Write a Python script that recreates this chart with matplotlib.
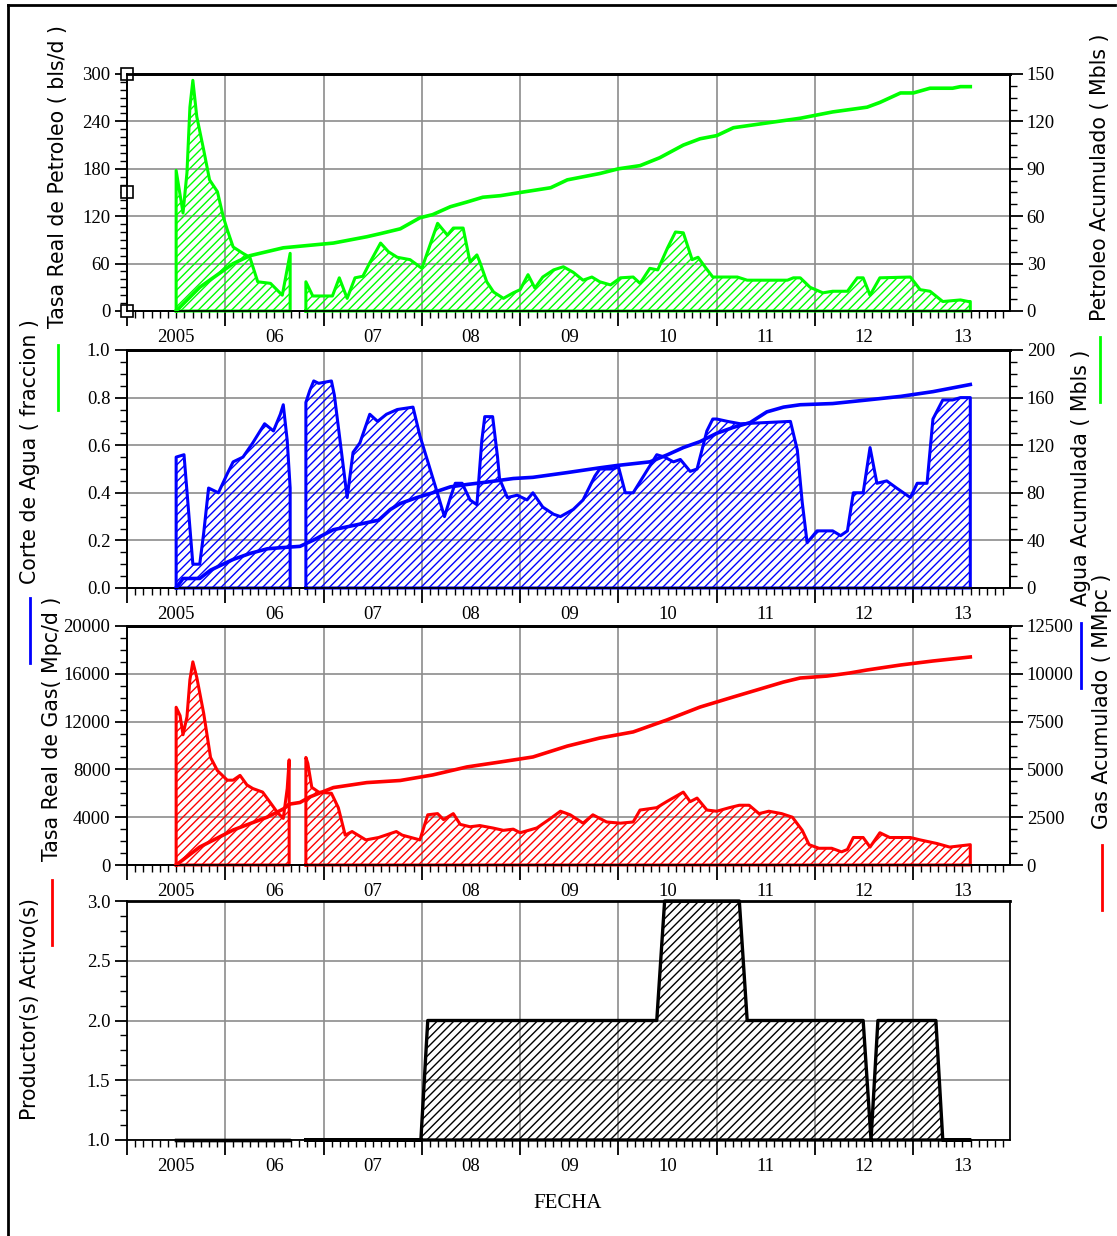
import numpy as np
import matplotlib
matplotlib.use('Agg')
import matplotlib.pyplot as plt
from matplotlib.ticker import FixedLocator, MultipleLocator, AutoMinorLocator, NullFormatter, FormatStrFormatter
from matplotlib.lines import Line2D

plt.rcParams['font.family'] = 'Liberation Serif'
plt.rcParams['hatch.linewidth'] = 1.0

VERDE = '#00ff00'
AZUL = '#0000ff'
ROJO = '#ff0000'
nan = np.nan

# eje de tiempo
anios = list(range(2005, 2014))
etiquetas = ['2005', '06', '07', '08', '09', '10', '11', '12', '13']

# tasa real de petroleo (bls/d)
t_pet = [2005.00, 2005.07, 2005.11, 2005.14, 2005.17, 2005.21, 2005.28, 2005.34, 2005.42, 2005.48,
         2005.52, 2005.58, 2005.68, 2005.75, 2005.83, 2005.96, 2006.08, 2006.16, 2006.24,
         2006.32, 2006.39, 2006.59, 2006.66, 2006.74, 2006.82, 2006.90, 2006.97, 2007.08, 2007.16,
         2007.25, 2007.38, 2007.50, 2007.66, 2007.76, 2007.82, 2007.92, 2007.99, 2008.06, 2008.09,
         2008.16, 2008.23, 2008.33, 2008.43, 2008.50, 2008.58, 2008.65, 2008.73, 2008.84, 2008.94,
         2009.04, 2009.14, 2009.23, 2009.31, 2009.42, 2009.52, 2009.65, 2009.72, 2009.82, 2009.90,
         2010.00, 2010.08, 2010.16, 2010.25, 2010.31, 2010.38, 2010.46, 2010.71, 2010.81, 2011.22,
         2011.28, 2011.35, 2011.45, 2011.58, 2011.68, 2011.83, 2011.93, 2011.99, 2012.06, 2012.16,
         2012.47, 2012.57, 2012.67, 2012.80, 2012.98, 2013.06, 2013.08]
q_pet = [178, 124, 175, 258, 292, 246, 204, 166, 151, 119,
         103, 81, 73, 68, 37, 35, 20, 73, nan,
         37, 19, 19, 42, 16, 42, 44, 61, 86, 75,
         68, 65, 54, 111, 96, 105, 105, 62, 71, 62,
         37, 24, 16, 23, 27, 46, 29, 43, 52, 56,
         49, 39, 43, 37, 33, 42, 43, 35, 54, 52,
         80, 100, 99, 65, 68, 56, 43, 43, 39, 39,
         42, 42, 30, 23, 25, 25, 42, 42, 20, 42,
         43, 27, 25, 12, 14, 12, 12]

# petroleo acumulado (Mbls)
t_np = [2005.00, 2005.24, 2005.58, 2005.75, 2006.09, 2006.26, 2006.60, 2006.77, 2006.94, 2007.08,
        2007.28, 2007.48, 2007.61, 2007.79, 2007.96, 2008.12, 2008.30, 2008.50, 2008.81, 2008.98,
        2009.31, 2009.50, 2009.72, 2009.92, 2010.16, 2010.33, 2010.50, 2010.67, 2011.01, 2011.35,
        2011.68, 2012.03, 2012.16, 2012.37, 2012.50, 2012.67, 2012.90, 2012.98, 2013.08]
np_acum = [0, 15, 30, 35, 40, 41, 43, 45, 47, 49,
           52, 59, 61, 66, 69, 72, 73, 75, 78, 83,
           87, 90, 92, 97, 105, 109, 111, 116, 119, 122,
           126, 129, 132, 138, 138, 141, 141, 142, 142]

# corte de agua (fraccion)
t_agua = [2005.00, 2005.08, 2005.17, 2005.24, 2005.28, 2005.33, 2005.43, 2005.52, 2005.58, 2005.68,
          2005.78, 2005.90, 2005.99, 2006.06, 2006.09, 2006.13, 2006.16, 2006.24,
          2006.32, 2006.36, 2006.40, 2006.45, 2006.58, 2006.61, 2006.74, 2006.80, 2006.87, 2006.97,
          2007.05, 2007.14, 2007.25, 2007.41, 2007.48, 2007.65, 2007.73, 2007.79, 2007.84, 2007.91,
          2007.99, 2008.06, 2008.11, 2008.14, 2008.22, 2008.27, 2008.29, 2008.37, 2008.47, 2008.57,
          2008.63, 2008.73, 2008.84, 2008.91, 2009.04, 2009.14, 2009.26, 2009.31, 2009.45, 2009.50,
          2009.57, 2009.65, 2009.77, 2009.89, 2009.97, 2010.06, 2010.13, 2010.23, 2010.30, 2010.40,
          2010.46, 2010.50, 2010.61, 2010.74, 2011.25, 2011.32, 2011.37, 2011.42, 2011.52, 2011.68,
          2011.76, 2011.83, 2011.89, 2011.99, 2012.06, 2012.13, 2012.23, 2012.33, 2012.47, 2012.54,
          2012.64, 2012.70, 2012.80, 2012.90, 2012.98, 2013.08]
fw = [0.55, 0.56, 0.10, 0.10, 0.23, 0.42, 0.40, 0.48, 0.53, 0.55,
      0.61, 0.69, 0.66, 0.73, 0.77, 0.62, 0.42, nan,
      0.78, 0.83, 0.87, 0.86, 0.87, 0.81, 0.38, 0.57, 0.61, 0.73,
      0.70, 0.73, 0.75, 0.76, 0.64, 0.41, 0.30, 0.38, 0.44, 0.44,
      0.37, 0.35, 0.62, 0.72, 0.72, 0.55, 0.46, 0.38, 0.39, 0.37,
      0.40, 0.34, 0.31, 0.30, 0.33, 0.37, 0.47, 0.50, 0.50, 0.51,
      0.40, 0.40, 0.48, 0.56, 0.55, 0.53, 0.54, 0.49, 0.50, 0.66,
      0.71, 0.71, 0.70, 0.69, 0.70, 0.58, 0.36, 0.19, 0.24, 0.24,
      0.22, 0.24, 0.40, 0.40, 0.59, 0.44, 0.45, 0.42, 0.38, 0.44,
      0.44, 0.71, 0.79, 0.79, 0.80, 0.80]

# agua acumulada (Mbls)
t_wp = [2005.00, 2005.07, 2005.24, 2005.35, 2005.58, 2005.75, 2005.93, 2006.09, 2006.26, 2006.39,
        2006.60, 2007.06, 2007.18, 2007.28, 2007.45, 2007.61, 2007.79, 2007.96, 2008.16, 2008.43,
        2008.63, 2008.98, 2009.31, 2009.49, 2009.82, 2010.00, 2010.16, 2010.33, 2010.50, 2010.67,
        2010.84, 2011.01, 2011.18, 2011.35, 2011.68, 2012.03, 2012.37, 2012.70, 2013.08]
wp = [0, 8, 8, 15, 24, 29, 33, 34, 35, 40,
      49, 57, 66, 71, 76, 80, 85, 87, 89, 92,
      93, 97, 101, 103, 106, 112, 118, 123, 130, 135,
      139, 148, 152, 154, 155, 158, 161, 165, 171]

# tasa real de gas (Mpc/d)
t_gas = [2005.00, 2005.04, 2005.07, 2005.11, 2005.14, 2005.17, 2005.21, 2005.28, 2005.35, 2005.42,
         2005.52, 2005.58, 2005.65, 2005.72, 2005.78, 2005.88, 2005.96, 2006.03, 2006.09, 2006.13,
         2006.15, 2006.24,
         2006.32, 2006.34, 2006.38, 2006.45, 2006.58, 2006.65, 2006.72, 2006.79, 2006.93, 2007.06,
         2007.24, 2007.30, 2007.48, 2007.56, 2007.66, 2007.72, 2007.82, 2007.89, 2007.99, 2008.09,
         2008.22, 2008.33, 2008.43, 2008.50, 2008.67, 2008.81, 2008.91, 2009.01, 2009.14, 2009.24,
         2009.38, 2009.52, 2009.65, 2009.72, 2009.89, 2009.99, 2010.16, 2010.23, 2010.30, 2010.40,
         2010.50, 2010.63, 2010.73, 2010.83, 2010.93, 2011.03, 2011.16, 2011.27, 2011.37, 2011.44,
         2011.54, 2011.67, 2011.77, 2011.83, 2011.89, 2011.99, 2012.06, 2012.16, 2012.26, 2012.36,
         2012.47, 2012.57, 2012.74, 2012.87, 2013.08]
qg = [13200, 12500, 10900, 12400, 15500, 17000, 15700, 12700, 9000, 7900,
      7100, 7100, 7500, 6700, 6400, 6100, 5200, 4400, 3900, 6400,
      8800, nan,
      9000, 8500, 6500, 6100, 6000, 4800, 2500, 2800, 2100, 2300,
      2800, 2500, 2100, 4200, 4300, 3800, 4300, 3400, 3200, 3300,
      3100, 2900, 3000, 2700, 3100, 3900, 4500, 4200, 3500, 4200,
      3600, 3500, 3600, 4600, 4800, 5300, 6100, 5300, 5600, 4600,
      4500, 4800, 5000, 5000, 4300, 4500, 4300, 4000, 2900, 1700,
      1400, 1400, 1100, 1300, 2300, 2300, 1500, 2700, 2300, 2300,
      2300, 2100, 1800, 1500, 1700]

# gas acumulado (MMpc)
t_gp = [2005.00, 2005.24, 2005.58, 2005.93, 2006.09, 2006.16, 2006.26, 2006.36, 2006.60, 2006.77,
        2006.94, 2007.28, 2007.61, 2007.96, 2008.30, 2008.63, 2008.98, 2009.31, 2009.65, 2009.99,
        2010.33, 2010.67, 2010.84, 2011.01, 2011.18, 2011.35, 2011.62, 2011.85, 2012.03, 2012.37,
        2012.70, 2013.08]
gp = [0, 940, 1830, 2510, 2930, 3190, 3270, 3560, 4050, 4180,
      4310, 4420, 4710, 5130, 5390, 5650, 6220, 6640, 6960, 7580,
      8260, 8790, 9050, 9310, 9570, 9780, 9880, 10040, 10200, 10460,
      10670, 10880]

# productores activos
t_prod = [2005.00, 2006.16, 2006.24, 2006.32, 2007.49, 2007.56, 2009.89, 2009.97, 2010.73, 2010.81,
          2011.99, 2012.07, 2012.14, 2012.73, 2012.80, 2013.08]
n_prod = [1, 1, nan, 1, 1, 2, 2, 3, 3, 2,
          2, 1, 2, 2, 1, 1]


def area(ax, t, v, color, base=0.0, lw=2.2):
    t = np.asarray(t, float)
    v = np.asarray(v, float)
    cortes = np.flatnonzero(np.isnan(v))
    for idx in np.split(np.arange(len(v)), cortes):
        idx = idx[~np.isnan(v[idx])]
        if len(idx) == 0:
            continue
        ts = np.r_[t[idx[0]], t[idx], t[idx[-1]]]
        vs = np.r_[base, v[idx], base]
        ax.fill_between(ts, base, vs, facecolor='none', edgecolor=color,
                        hatch='////', linewidth=0, zorder=2)
        ax.plot(np.r_[ts, ts[0]], np.r_[vs, base], color=color, lw=lw,
                zorder=3, clip_on=False)


def estilo_x(ax):
    ax.set_xlim(2004.5, 2013.484)
    ax.xaxis.set_major_locator(FixedLocator(np.arange(2004.5, 2013.6, 1.0)))
    ax.xaxis.set_minor_locator(FixedLocator(2004.5 + np.arange(0, 108) / 12))
    ax.xaxis.set_major_formatter(NullFormatter())
    ax.tick_params(axis='x', which='major', length=11, width=1.3)
    ax.tick_params(axis='x', which='minor', length=5, width=1)
    sec = ax.secondary_xaxis('bottom')
    sec.set_xticks(anios, labels=etiquetas)
    sec.tick_params(length=0, pad=13, labelsize=13.5)
    sec.spines['bottom'].set_visible(False)
    ax.grid(True, which='major', color='#8c8c8c', lw=1.2)


def estilo_y(ax, lim, paso, nmin):
    ax.set_ylim(*lim)
    ax.yaxis.set_major_locator(MultipleLocator(paso))
    ax.yaxis.set_minor_locator(AutoMinorLocator(nmin))
    ax.tick_params(axis='y', which='major', length=9, width=1.3, labelsize=13.5, pad=3)
    ax.tick_params(axis='y', which='minor', length=5, width=1)
    for lado in ax.spines.values():
        lado.set_linewidth(1.3)
    ax.spines['top'].set_linewidth(2)


fig = plt.figure(figsize=(11.17, 12.36), dpi=100)
W, H = 1117, 1236


def caja(top, bot):
    return [127 / W, 1 - bot / H, 883 / W, (bot - top) / H]


ax1 = fig.add_axes(caja(74, 311))
ax2 = fig.add_axes(caja(350, 588))
ax3 = fig.add_axes(caja(626, 865))
ax4 = fig.add_axes(caja(901, 1140))

# panel 1: petroleo
estilo_x(ax1)
estilo_y(ax1, (0, 300), 60, 6)
area(ax1, t_pet, q_pet, VERDE)
ax1b = ax1.twinx()
estilo_y(ax1b, (0, 150), 30, 4)
ax1b.plot(t_np, np_acum, color=VERDE, lw=2.6, zorder=4)
ax1.plot([0, 0, 0], [0, 150, 300], 's', ms=8, mfc='white', mec='black', mew=1.2,
         transform=ax1.get_yaxis_transform(), clip_on=False, zorder=6)

# panel 2: agua
estilo_x(ax2)
estilo_y(ax2, (0, 1.0), 0.2, 4)
area(ax2, t_agua, fw, AZUL)
ax2b = ax2.twinx()
estilo_y(ax2b, (0, 200), 40, 4)
ax2b.plot(t_wp, wp, color=AZUL, lw=2.6, zorder=4)

# panel 3: gas
estilo_x(ax3)
estilo_y(ax3, (0, 20000), 4000, 4)
area(ax3, t_gas, qg, ROJO)
ax3b = ax3.twinx()
estilo_y(ax3b, (0, 12500), 2500, 4)
ax3b.plot(t_gp, gp, color=ROJO, lw=2.6, zorder=4)

# panel 4: productores
estilo_x(ax4)
estilo_y(ax4, (1.0, 3.0), 0.5, 4)
ax4.yaxis.set_major_formatter(FormatStrFormatter('%.1f'))
area(ax4, t_prod, n_prod, 'black', base=1.0, lw=2.4)


def rotulo(x, yc, texto, color=None, y1=None, y2=None):
    fig.text(x / W, 1 - yc / H, texto, rotation=90, ha='center', va='center',
             family='DejaVu Sans', size=14.8)
    if color is not None:
        fig.add_artist(Line2D([x / W, x / W], [1 - y1 / H, 1 - y2 / H],
                              transform=fig.transFigure, color=color, lw=2))


rotulo(58, 176, 'Tasa Real de Petroleo ( bls/d )', VERDE, 345, 410)
rotulo(30, 452, 'Corte de Agua ( fraccion )', AZUL, 598, 663)
rotulo(52, 729, 'Tasa Real de Gas( Mpc/d )', ROJO, 880, 945)
rotulo(30, 1009, 'Productor(s) Activo(s)')
rotulo(1100, 177, 'Petroleo Acumulado ( Mbls )', VERDE, 337, 402)
rotulo(1081, 478, 'Agua Acumulada ( Mbls )', AZUL, 623, 688)
rotulo(1102, 701, 'Gas Acumulado ( MMpc )', ROJO, 845, 910)

fig.text(568 / W, 1 - 1203 / H, 'FECHA', ha='center', va='center', size=15)

# marco
fig.add_artist(Line2D([8 / W, 8 / W], [0, 1 - 5 / H], transform=fig.transFigure, color='black', lw=2))
fig.add_artist(Line2D([8 / W, 1115 / W], [1 - 5 / H, 1 - 5 / H], transform=fig.transFigure, color='black', lw=2))

fig.savefig('out.png', dpi=100)
